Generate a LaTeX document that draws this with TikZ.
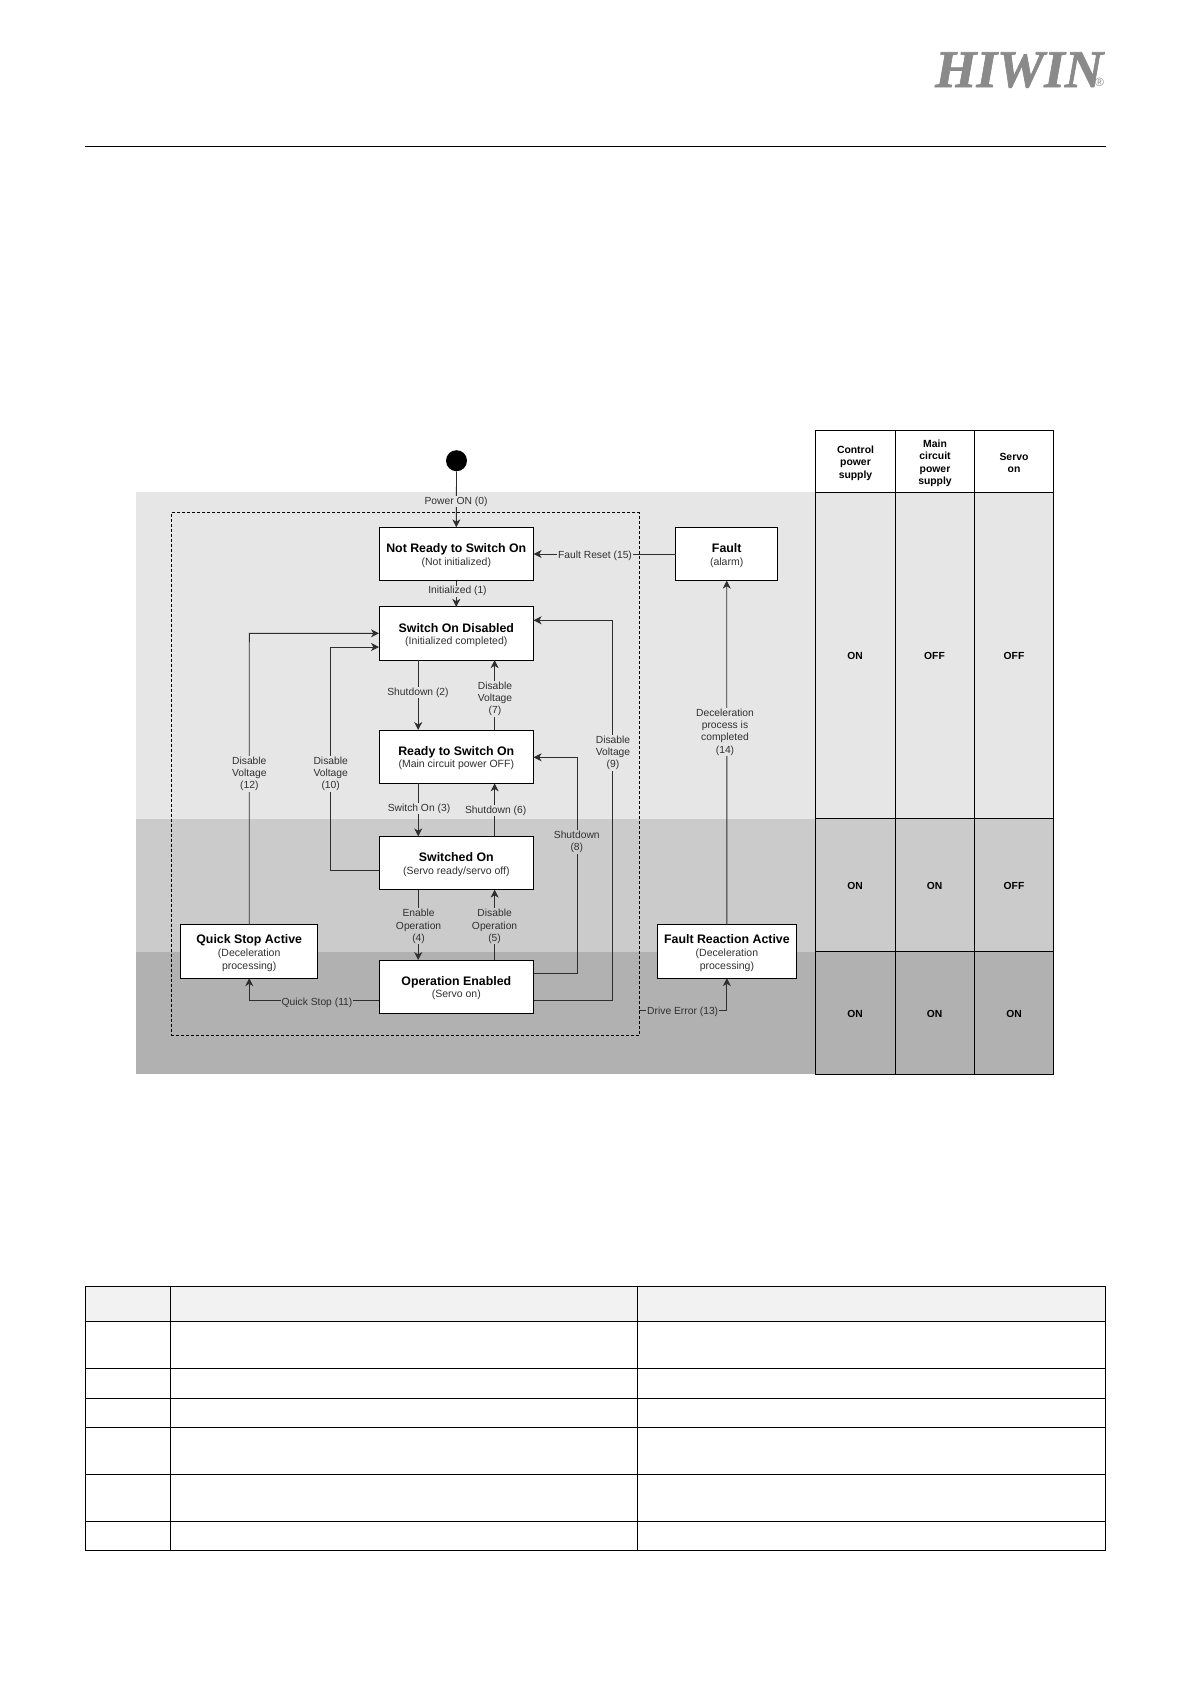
\documentclass[tikz,border=0pt]{standalone}
\usepackage{fontspec}
\setmainfont{Liberation Sans}
\newfontfamily\logofont[BoldItalicFeatures={FakeBold=1.3}]{Liberation Serif}
\usetikzlibrary{arrows.meta}
\definecolor{bandA}{HTML}{E6E6E6}
\definecolor{bandB}{HTML}{CBCBCB}
\definecolor{bandC}{HTML}{B1B1B1}
\definecolor{lineC}{HTML}{2E2E2E}
\definecolor{txtC}{HTML}{303030}
\definecolor{logoC}{HTML}{8A8A8A}
\definecolor{headC}{HTML}{F2F2F2}
\newcommand{\ttl}[1]{{\fontsize{12.35}{12.8}\selectfont\bfseries\color{black}\rule{0pt}{12pt}#1}}
\tikzset{
  x=1pt,y=-1pt,
  statebox/.style={draw=black,fill=white,line width=1pt,inner sep=0pt,outer sep=0pt,align=center,
     text=txtC,font=\fontsize{10.5}{12.6}\selectfont,minimum width=154.6pt,minimum height=53.3pt},
  conn/.style={draw=lineC,line width=0.9pt},
  arr/.style={conn,-{Stealth[length=8pt,width=8pt,inset=2.4pt]}},
  lab/.style={inner sep=0.8pt,outer sep=0pt,yshift=-1.1pt,align=center,text=txtC,font=\fontsize{10.3}{12.4}\selectfont},
  la/.style={lab,fill=bandA},
  lb/.style={lab,fill=bandB},
  lc/.style={lab,fill=bandC},
  cellhead/.style={inner sep=0pt,yshift=2.3pt,align=center,text=black,font=\fontsize{10.4}{12.4}\selectfont\bfseries},
  cellval/.style={inner sep=0pt,text=black,font=\fontsize{10.3}{12}\selectfont\bfseries},
  gridl/.style={draw=black,line width=1pt},
  gridt/.style={draw=black,line width=0.7pt},
}
\begin{document}
\begin{tikzpicture}
\useasboundingbox (0,0) rectangle (1191,1684);
% logo and header rule
\node[inner sep=0pt,text=logoC,anchor=base west,font=\fontsize{53}{53}\selectfont\logofont\bfseries\itshape] (logo) at (935,87) {HIWIN};
\node[inner sep=0pt,text=logoC,anchor=center,font=\fontsize{12}{12}\selectfont] (reg) at (1099.5,82) {®};
\draw[black,line width=1pt] (85,146.5) -- (1106,146.5);
% bands
\fill[bandA] (136,492.3) rectangle (1053.7,818.7);
\fill[bandB] (136,818.7) rectangle (1053.7,951.7);
\fill[bandC] (136,951.7) rectangle (1053.7,1074.3);
% dashed frame
\node[draw=black,densely dashed,line width=0.9pt,inner sep=0pt,outer sep=0pt,minimum width=468pt,minimum height=523pt] (dbox) at (405.3,774.2) {};
% states
\node[circle,fill=black,inner sep=0pt,minimum size=21pt] (start) at (456.5,460.7) {};
\node[statebox] (nr) at (456.3,554) {\ttl{Not Ready to Switch On}\\(Not initialized)};
\node[statebox] (sod) at (456.3,633.5) {\ttl{Switch On Disabled}\\(Initialized completed)};
\node[statebox] (rts) at (456.3,756.7) {\ttl{Ready to Switch On}\\(Main circuit power OFF)};
\node[statebox] (swo) at (456.3,863) {\ttl{Switched On}\\(Servo ready/servo off)};
\node[statebox] (ope) at (456.3,986.7) {\ttl{Operation Enabled}\\(Servo on)};
\node[statebox,minimum width=136.8pt] (qsa) at (249.2,951.5) {\ttl{Quick Stop Active}\\(Deceleration\\processing)};
\node[statebox,minimum width=102pt] (flt) at (726.7,554) {\ttl{Fault}\\(alarm)};
\node[statebox,minimum width=139.4pt] (fra) at (726.9,951.5) {\ttl{Fault Reaction Active}\\(Deceleration\\processing)};
% routing coordinates
\coordinate (xa) at (418.2,0);
\coordinate (xb) at (494.6,0);
\coordinate (x12) at (249.3,633.3);
\coordinate (x10) at (330.7,647);
\coordinate (x9) at (612.9,620.3);
\coordinate (x8) at (577.5,757.3);
\coordinate (y8) at (0,973.3);
\coordinate (y9) at (0,1000);
\coordinate (y10) at (0,870.3);
\coordinate (y13) at (0,1010.7);
% connectors
\draw[arr] (start.south) -- (nr.north);
\draw[arr] (nr.south) -- (sod.north);
\draw[arr] (xa |- sod.south) -- (xa |- rts.north);
\draw[arr] (xb |- rts.north) -- (xb |- sod.south);
\draw[arr] (xa |- rts.south) -- (xa |- swo.north);
\draw[arr] (xb |- swo.north) -- (xb |- rts.south);
\draw[arr] (xa |- swo.south) -- (xa |- ope.north);
\draw[arr] (xb |- ope.north) -- (xb |- swo.south);
\draw[arr] (flt.west) -- (flt.west -| nr.east);
\draw[arr] (qsa.north) -- (x12) -- (x12 -| sod.west);
\draw[arr] (swo.west |- y10) -- (x10 |- y10) -- (x10) -- (x10 -| sod.west);
\draw[arr] (ope.east |- y9) -- (x9 |- y9) -- (x9) -- (x9 -| sod.east);
\draw[arr] (ope.east |- y8) -- (x8 |- y8) -- (x8) -- (x8 -| rts.east);
\draw[arr] (ope.west |- y9) -- (qsa.south |- y9) -- (qsa.south);
\draw[arr] (dbox.east |- y13) -- (fra.south |- y13) -- (fra.south);
\draw[arr] (fra.north) -- (flt.south);
% connector labels
\node[la] (l0) at (456,500.7) {Power ON (0)};
\node[la] (l1) at (457.5,590) {Initialized (1)};
\node[la] (l15) at (595,554.7) {Fault Reset (15)};
\node[la] (l2) at (418,691.3) {Shutdown (2)};
\node[la] (l7) at (495,697.7) {Disable\\Voltage\\(7)};
\node[la] (l9) at (613,751.7) {Disable\\Voltage\\(9)};
\node[la] (l12) at (249.3,772.7) {Disable\\Voltage\\(12)};
\node[la] (l10) at (330.7,772.7) {Disable\\Voltage\\(10)};
\node[la] (l3) at (419,807.7) {Switch On (3)};
\node[la] (l6) at (495.7,809.7) {Shutdown (6)};
\node[lb] (l8) at (576.8,840.7) {Shutdown\\(8)};
\node[lb] (l4) at (418.6,925.3) {Enable\\Operation\\(4)};
\node[lb] (l5) at (494.6,925.3) {Disable\\Operation\\(5)};
\node[lc] (l11) at (317,1001.7) {Quick Stop (11)};
\node[lc] (l13) at (682.7,1010.7) {Drive Error (13)};
\node[la] (l14) at (725,731) {Deceleration\\process is\\completed\\(14)};
% status table
\draw[gridl] (815.3,430.3) rectangle (1053.7,1074.3);
\draw[gridl] (815.3,492.3) -- (1053.7,492.3);
\draw[gridt] (895.3,430.3) -- (895.3,1074.3);
\draw[gridt] (974.3,430.3) -- (974.3,1074.3);
\draw[gridt] (815.3,818.7) -- (1053.7,818.7);
\draw[gridt] (815.3,951.7) -- (1053.7,951.7);
\node[cellhead] (h1) at (855.5,465.5) {Control\\power\\supply};
\node[cellhead] (h2) at (935,465.5) {Main\\circuit\\power\\supply};
\node[cellhead] (h3) at (1014,465.5) {Servo\\on};
\node[cellval] (a1) at (855,656) {ON};
\node[cellval] (a2) at (934.5,656) {OFF};
\node[cellval] (a3) at (1014,656) {OFF};
\node[cellval] (b1) at (855,886.2) {ON};
\node[cellval] (b2) at (934.5,886.2) {ON};
\node[cellval] (b3) at (1014,886.2) {OFF};
\node[cellval] (c1) at (855,1013.7) {ON};
\node[cellval] (c2) at (934.5,1013.7) {ON};
\node[cellval] (c3) at (1014,1013.7) {ON};
% lower empty table
\fill[headC] (85,1286.3) rectangle (1105.5,1321.3);
\draw[gridl] (85,1286.3) rectangle (1105.5,1550.3);
\foreach \yy in {1321.3,1368.3,1398.3,1427.3,1474.3,1521.3} \draw[gridl] (85,\yy) -- (1105.5,\yy);
\draw[gridt] (170.2,1286.3) -- (170.2,1550.3);
\draw[gridt] (637,1286.3) -- (637,1550.3);
\end{tikzpicture}
\end{document}
